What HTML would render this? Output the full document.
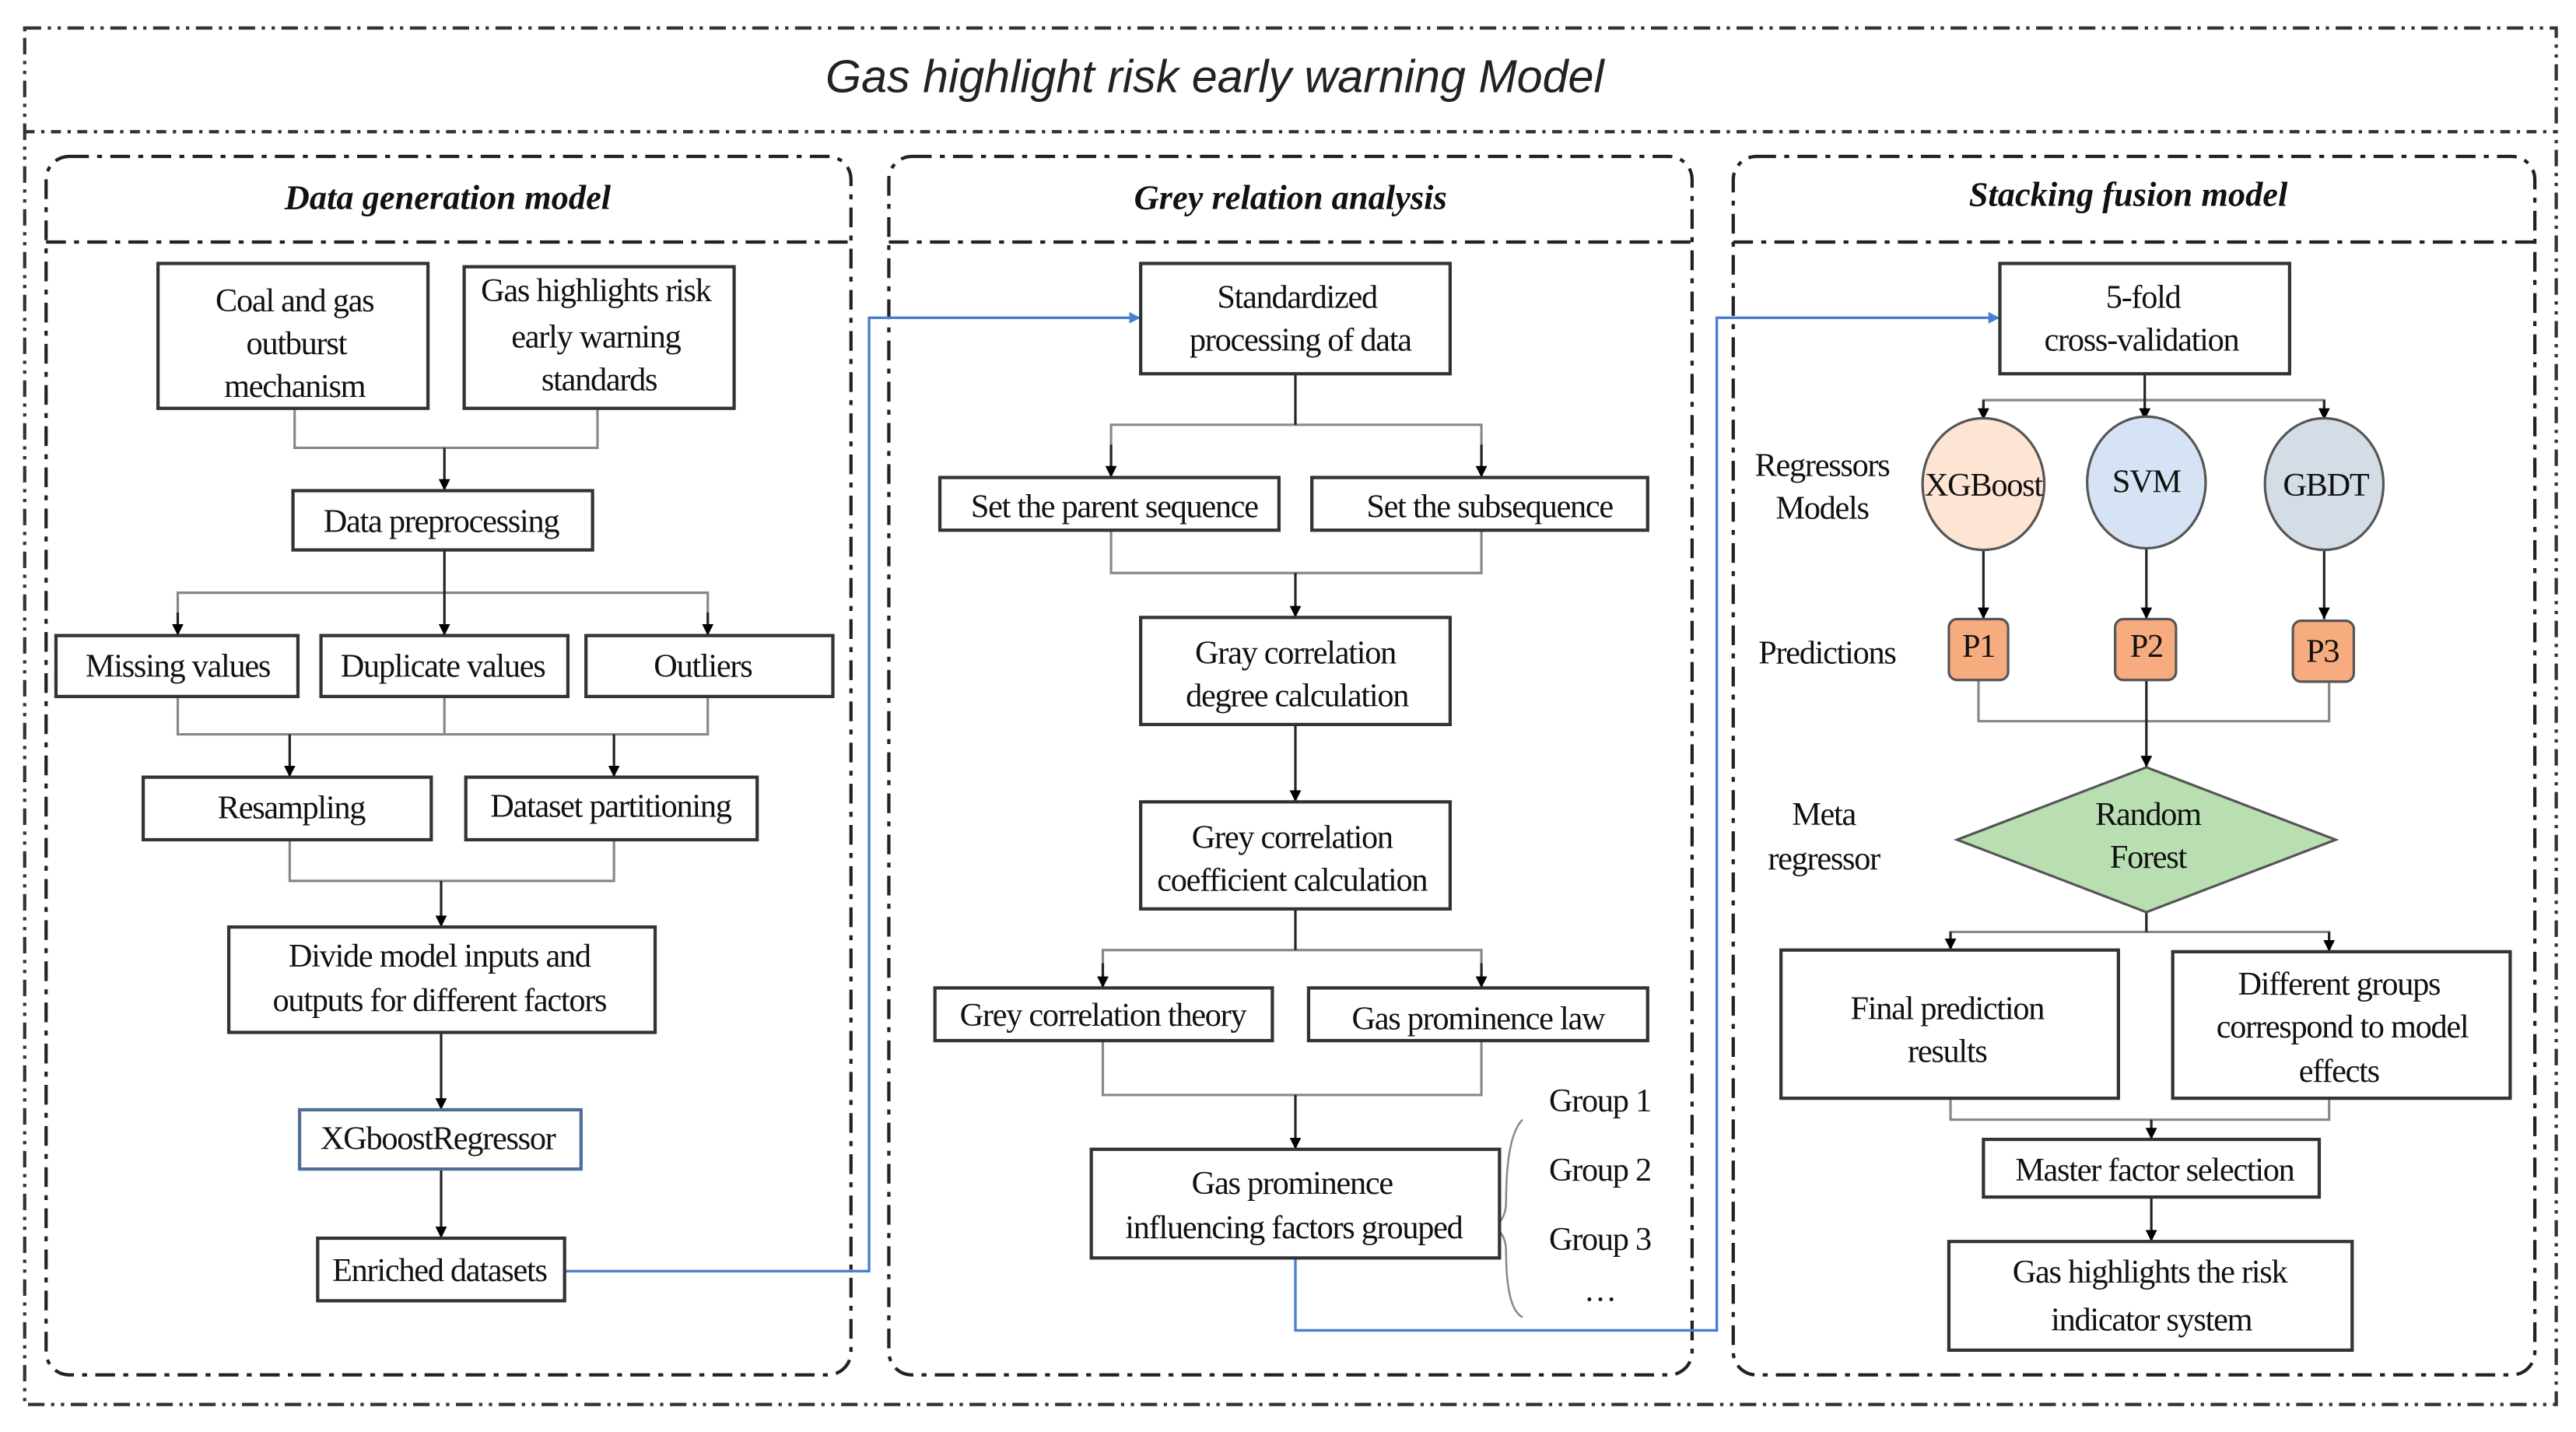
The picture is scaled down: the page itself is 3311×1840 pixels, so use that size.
<!DOCTYPE html>
<html><head><meta charset="utf-8"><style>html,body{margin:0;padding:0;background:#fff}svg{display:block}</style></head>
<body>
<svg width="3311" height="1840" viewBox="0 0 1565 869.7" preserveAspectRatio="none" xmlns="http://www.w3.org/2000/svg">
<defs>
<marker id="a" markerWidth="8" markerHeight="8" refX="7" refY="4" orient="auto" markerUnits="userSpaceOnUse"><path d="M0,0.5 L7,4 L0,7.5 Z" fill="#000"/></marker>
<marker id="b" markerWidth="8" markerHeight="8" refX="7" refY="4" orient="auto" markerUnits="userSpaceOnUse"><path d="M0,0.5 L7,4 L0,7.5 Z" fill="#4a7fd0"/></marker>
</defs>
<g fill="none" stroke="#333" stroke-width="2" stroke-dasharray="10,4,2,4,2,4">
<rect x="15" y="17" width="1538" height="836"/>
<line x1="15" y1="80" x2="1553" y2="80" stroke-dasharray="6,4,2,4"/>
</g>
<g fill="none" stroke="#222" stroke-width="2" stroke-dasharray="12,5,3,5">
<rect x="28" y="95" width="489" height="740" rx="14"/>
<line x1="28" y1="147" x2="517" y2="147"/>
<rect x="540" y="95" width="488" height="740" rx="14"/>
<line x1="540" y1="147" x2="1028" y2="147"/>
<rect x="1053" y="95" width="487" height="740" rx="14"/>
<line x1="1053" y1="147" x2="1540" y2="147"/>
</g>
<g font-family="Liberation Sans, sans-serif" font-style="italic" text-anchor="middle">
<text x="738" y="56" font-size="28" fill="#222">Gas highlight risk early warning Model</text>
</g>
<g font-family="Liberation Serif, serif" font-style="italic" font-weight="bold" font-size="21" text-anchor="middle" fill="#111">
<text x="272" y="127">Data generation model</text>
<text x="784" y="127">Grey relation analysis</text>
<text x="1293" y="125">Stacking fusion model</text>
</g>
<!-- connectors -->
<g fill="none" stroke="#888" stroke-width="1.5">
<path d="M179,248 V272 H363 V248"/>
<path d="M108,386 V360 H430 V386"/>
<path d="M108,423 V446 H430 V423 M270,423 V446"/>
<path d="M176,510 V535 H373 V510"/>
<path d="M675,290 V258 H900 V290"/>
<path d="M675,322 V348 H900 V322"/>
<path d="M670,600 V577 H900 V600"/>
<path d="M670,632 V665 H900 V632"/>
<path d="M1205,255 V243 H1412 V255"/>
<path d="M1202,413 V438 H1415 V413"/>
<path d="M1185,577 V566 H1415 V577"/>
<path d="M1185,667 V680 H1415 V667"/>
<path d="M925,680 Q915,690 915,730 Q915,740 908,745 Q915,750 915,760 Q915,795 925,800" stroke-width="1.2"/>
</g>
<g stroke="#222" stroke-width="1.5" marker-end="url(#a)">
<line x1="270" y1="272" x2="270" y2="298"/>
<line x1="270" y1="334" x2="270" y2="386"/>
<line x1="108" y1="372" x2="108" y2="386"/>
<line x1="430" y1="372" x2="430" y2="386"/>
<line x1="176" y1="446" x2="176" y2="472"/>
<line x1="373" y1="446" x2="373" y2="472"/>
<line x1="268" y1="535" x2="268" y2="563"/>
<line x1="268" y1="627" x2="268" y2="674"/>
<line x1="268" y1="710" x2="268" y2="752"/>
<line x1="787" y1="227" x2="787" y2="258" marker-end="none"/>
<line x1="675" y1="270" x2="675" y2="290"/>
<line x1="900" y1="270" x2="900" y2="290"/>
<line x1="787" y1="348" x2="787" y2="375"/>
<line x1="787" y1="440" x2="787" y2="487"/>
<line x1="787" y1="552" x2="787" y2="577" marker-end="none"/>
<line x1="670" y1="585" x2="670" y2="600"/>
<line x1="900" y1="585" x2="900" y2="600"/>
<line x1="787" y1="665" x2="787" y2="698"/>
<line x1="1303" y1="227" x2="1303" y2="255"/>
<line x1="1205" y1="243" x2="1205" y2="255"/>
<line x1="1412" y1="243" x2="1412" y2="255"/>
<line x1="1205" y1="334" x2="1205" y2="376"/>
<line x1="1304" y1="333" x2="1304" y2="376"/>
<line x1="1412" y1="334" x2="1412" y2="376"/>
<line x1="1304" y1="413" x2="1304" y2="466"/>
<line x1="1304" y1="554" x2="1304" y2="566" marker-end="none"/>
<line x1="1185" y1="566" x2="1185" y2="577"/>
<line x1="1415" y1="566" x2="1415" y2="578"/>
<line x1="1307" y1="680" x2="1307" y2="692"/>
<line x1="1307" y1="727" x2="1307" y2="754"/>
</g>
<g fill="none" stroke="#4a7fd0" stroke-width="1.6" marker-end="url(#b)">
<path d="M343,772 H528 V193 H693"/>
<path d="M787,764 V808 H1043 V193 H1215"/>
</g>
<!-- boxes -->
<g fill="#fff" stroke="#333" stroke-width="2">
<rect x="96" y="160" width="164" height="88"/>
<rect x="282" y="162" width="164" height="86"/>
<rect x="178" y="298" width="182" height="36"/>
<rect x="34" y="386" width="147" height="37"/>
<rect x="195" y="386" width="150" height="37"/>
<rect x="356" y="386" width="150" height="37"/>
<rect x="87" y="472" width="175" height="38"/>
<rect x="283" y="472" width="177" height="38"/>
<rect x="139" y="563" width="259" height="64"/>
<rect x="182" y="674" width="171" height="36" stroke="#4f6e9a"/>
<rect x="193" y="752" width="150" height="38"/>
<rect x="693" y="160" width="188" height="67"/>
<rect x="571" y="290" width="206" height="32"/>
<rect x="797" y="290" width="204" height="32"/>
<rect x="693" y="375" width="188" height="65"/>
<rect x="693" y="487" width="188" height="65"/>
<rect x="568" y="600" width="205" height="32"/>
<rect x="795" y="600" width="206" height="32"/>
<rect x="663" y="698" width="248" height="66"/>
<rect x="1215" y="160" width="176" height="67"/>
<rect x="1082" y="577" width="205" height="90"/>
<rect x="1320" y="578" width="205" height="89"/>
<rect x="1205" y="692" width="204" height="35"/>
<rect x="1184" y="754" width="245" height="66"/>
</g>
<ellipse cx="1205" cy="294" rx="37" ry="40" fill="#fde4d3" stroke="#555" stroke-width="1.5"/>
<ellipse cx="1304" cy="293" rx="36" ry="40" fill="#d5e3f4" stroke="#555" stroke-width="1.5"/>
<ellipse cx="1412" cy="294" rx="36" ry="40" fill="#d4dce6" stroke="#555" stroke-width="1.5"/>
<g fill="#f7ac80" stroke="#555" stroke-width="1.5">
<rect x="1184" y="376" width="36" height="37" rx="5"/>
<rect x="1285" y="376" width="37" height="37" rx="5"/>
<rect x="1393" y="377" width="37" height="37" rx="5"/>
</g>
<polygon points="1189,510 1304,466 1419,510 1304,554" fill="#b8deb1" stroke="#555" stroke-width="1.5"/>
<g font-family="Liberation Serif, serif" font-size="20" text-anchor="middle" fill="#111" letter-spacing="-0.6">
<text x="179" y="189">Coal and gas</text><text x="180" y="215">outburst</text><text x="179" y="241">mechanism</text>
<text x="362" y="183">Gas highlights risk</text><text x="362" y="211">early warning</text><text x="364" y="237">standards</text>
<text x="268" y="323">Data preprocessing</text>
<text x="108" y="411">Missing values</text>
<text x="269" y="411">Duplicate values</text>
<text x="427" y="411">Outliers</text>
<text x="177" y="497">Resampling</text>
<text x="371" y="496">Dataset partitioning</text>
<text x="267" y="587">Divide model inputs and</text><text x="267" y="614">outputs for different factors</text>
<text x="266" y="698">XGboostRegressor</text>
<text x="267" y="778">Enriched datasets</text>
<text x="788" y="187">Standardized</text><text x="790" y="213">processing of data</text>
<text x="677" y="314">Set the parent sequence</text>
<text x="905" y="314">Set the subsequence</text>
<text x="787" y="403">Gray correlation</text><text x="788" y="429">degree calculation</text>
<text x="785" y="515">Grey correlation</text><text x="785" y="541">coefficient calculation</text>
<text x="670" y="623">Grey correlation theory</text>
<text x="898" y="625">Gas prominence law</text>
<text x="785" y="725">Gas prominence</text><text x="786" y="752">influencing factors grouped</text>
<text x="972" y="675">Group 1</text><text x="972" y="717">Group 2</text><text x="972" y="759">Group 3</text><text x="972" y="790">…</text>
<text x="1302" y="187">5-fold</text><text x="1301" y="213">cross-validation</text>
<text x="1107" y="289">Regressors</text><text x="1107" y="315">Models</text>
<text x="1205" y="301">XGBoost</text><text x="1304" y="299">SVM</text><text x="1413" y="301">GBDT</text>
<text x="1110" y="403">Predictions</text>
<text x="1202" y="399">P1</text><text x="1304" y="399">P2</text><text x="1411" y="402">P3</text>
<text x="1108" y="501">Meta</text><text x="1108" y="528">regressor</text>
<text x="1305" y="501">Random</text><text x="1305" y="527">Forest</text>
<text x="1183" y="619">Final prediction</text><text x="1183" y="645">results</text>
<text x="1421" y="604">Different groups</text><text x="1423" y="630">correspond to model</text><text x="1421" y="657">effects</text>
<text x="1309" y="717">Master factor selection</text>
<text x="1306" y="779">Gas highlights the risk</text><text x="1307" y="808">indicator system</text>
</g>
</svg>
</body></html>
